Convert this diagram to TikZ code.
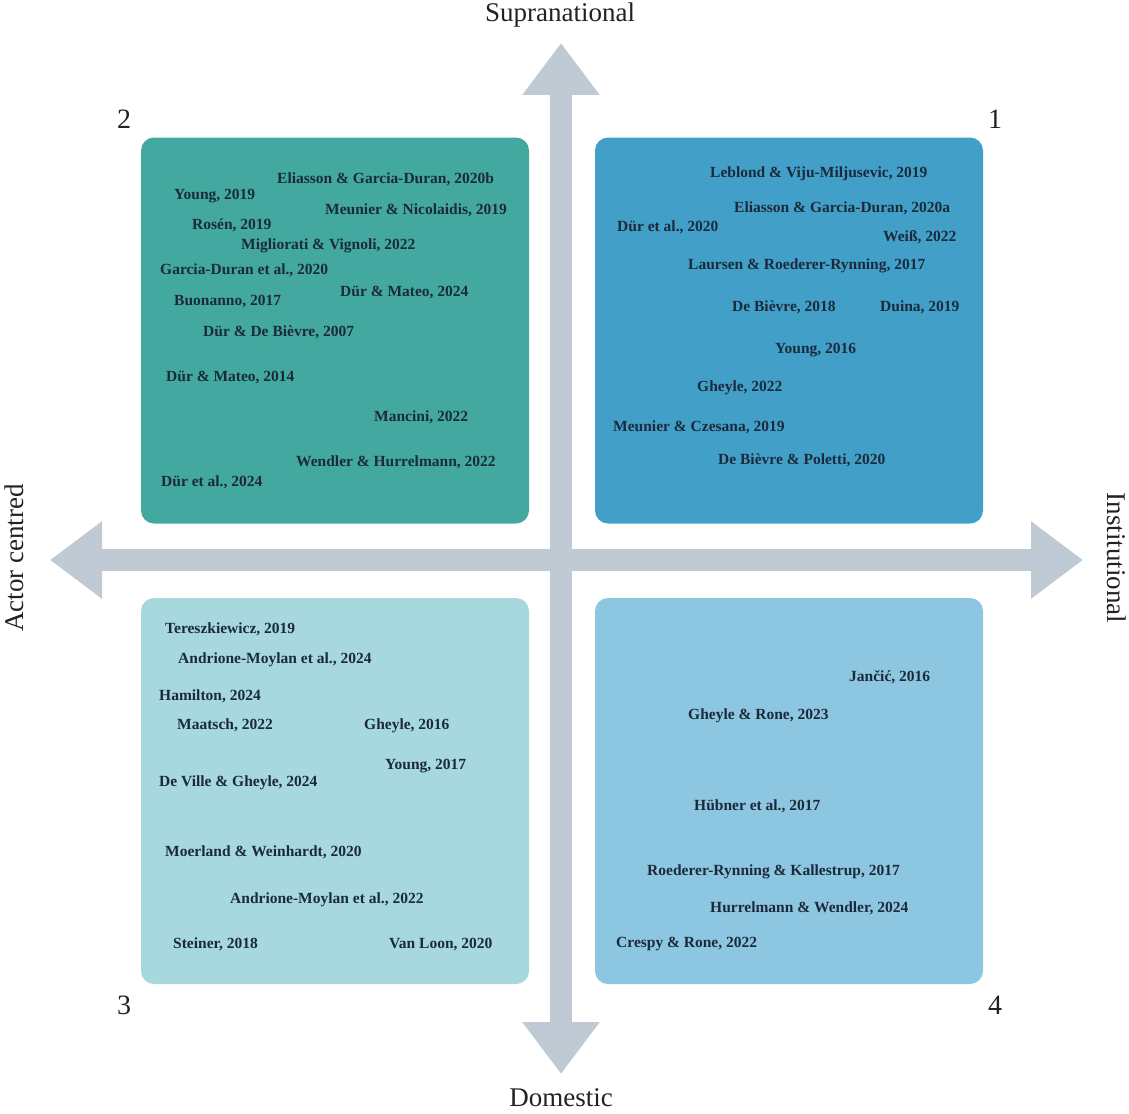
\documentclass[tikz,border=0pt]{standalone}
\usepackage{fontspec}
\setmainfont{Liberation Serif}
\usetikzlibrary{arrows.meta}
\definecolor{cTwo}{HTML}{43A9A0}
\definecolor{cOne}{HTML}{42A0C8}
\definecolor{cThree}{HTML}{A6D8DD}
\definecolor{cFour}{HTML}{8DC6E0}
\definecolor{arrowc}{HTML}{BFCAD4}
\definecolor{txt}{HTML}{1B2A3B}
\definecolor{lab}{HTML}{222222}
\tikzset{
  quad/.style={rounded corners=13pt, minimum width=388pt, minimum height=386pt, inner sep=0pt, draw=none},
  ref/.style={anchor=west, inner sep=0pt, yshift=-1.5pt, text=txt, font=\bfseries\fontsize{15.5}{17}\selectfont},
  axislab/.style={inner sep=0pt, text=lab, font=\fontsize{27}{30}\selectfont},
  num/.style={inner sep=0pt, text=lab, font=\fontsize{28}{30}\selectfont},
  bigarrow/.style={draw=arrowc, line width=22pt, {Triangle[width=74pt,length=52pt]}-{Triangle[width=74pt,length=52pt]}}
}
\begin{document}
\begin{tikzpicture}[x=1pt,y=-1pt]
\useasboundingbox (0,0) rectangle (1129,1113);
% quadrants
\node[quad, fill=cTwo] (q2) at (335,330.5) {};
\node[quad, fill=cOne] (q1) at (789,330.5) {};
\node[quad, fill=cThree] (q3) at (335,791) {};
\node[quad, fill=cFour] (q4) at (789,791) {};
% arrows
\coordinate (top) at (561,43);
\coordinate (bot) at (561,1074);
\coordinate (lft) at (50,560);
\coordinate (rgt) at (1083,560);
\draw[bigarrow] (bot) -- (top);
\draw[bigarrow] (lft) -- (rgt);
% axis labels
\node[axislab] (sup) at (560,15) {Supranational};
\node[axislab] (dom) at (561,1098) {Domestic};
\node[axislab, rotate=90] (act) at (14,558) {Actor centred};
\node[axislab, rotate=-90] (ins) at (1117,558) {Institutional};
% numbers
\node[num] (n2) at (124,119) {2};
\node[num] (n1) at (995,119) {1};
\node[num] (n3) at (124,1005) {3};
\node[num] (n4) at (995,1005) {4};
% box 2
\node[ref] (a1) at (277,178) {Eliasson \& Garcia-Duran, 2020b};
\node[ref] (a2) at (174,195) {Young, 2019};
\node[ref] (a3) at (325,209) {Meunier \& Nicolaidis, 2019};
\node[ref] (a4) at (192,224) {Rosén, 2019};
\node[ref] (a5) at (241,244) {Migliorati \& Vignoli, 2022};
\node[ref] (a6) at (160,269) {Garcia-Duran et al., 2020};
\node[ref] (a7) at (340,291) {Dür \& Mateo, 2024};
\node[ref] (a8) at (174,300) {Buonanno, 2017};
\node[ref] (a9) at (203,331) {Dür \& De Bièvre, 2007};
\node[ref] (a10) at (166,376) {Dür \& Mateo, 2014};
\node[ref] (a11) at (374,416) {Mancini, 2022};
\node[ref] (a12) at (296,461) {Wendler \& Hurrelmann, 2022};
\node[ref] (a13) at (161,481) {Dür et al., 2024};
% box 1
\node[ref] (b1) at (710,172) {Leblond \& Viju-Miljusevic, 2019};
\node[ref] (b2) at (734,207) {Eliasson \& Garcia-Duran, 2020a};
\node[ref] (b3) at (617,226) {Dür et al., 2020};
\node[ref] (b4) at (883,236) {Weiß, 2022};
\node[ref] (b5) at (688,264) {Laursen \& Roederer-Rynning, 2017};
\node[ref] (b6) at (732,306) {De Bièvre, 2018};
\node[ref] (b7) at (880,306) {Duina, 2019};
\node[ref] (b8) at (775,349) {Young, 2016};
\node[ref] (b9) at (697,386) {Gheyle, 2022};
\node[ref] (b10) at (613,426) {Meunier \& Czesana, 2019};
\node[ref] (b11) at (718,459) {De Bièvre \& Poletti, 2020};
% box 3
\node[ref] (c1) at (165,628) {Tereszkiewicz, 2019};
\node[ref] (c2) at (178,658) {Andrione-Moylan et al., 2024};
\node[ref] (c3) at (159,695) {Hamilton, 2024};
\node[ref] (c4) at (177,724) {Maatsch, 2022};
\node[ref] (c5) at (364,724) {Gheyle, 2016};
\node[ref] (c6) at (385,765) {Young, 2017};
\node[ref] (c7) at (159,781) {De Ville \& Gheyle, 2024};
\node[ref] (c8) at (165,851) {Moerland \& Weinhardt, 2020};
\node[ref] (c9) at (230,898) {Andrione-Moylan et al., 2022};
\node[ref] (c10) at (173,943) {Steiner, 2018};
\node[ref] (c11) at (389,943) {Van Loon, 2020};
% box 4
\node[ref] (d1) at (849,676) {Jančić, 2016};
\node[ref] (d2) at (688,714) {Gheyle \& Rone, 2023};
\node[ref] (d3) at (694,805) {Hübner et al., 2017};
\node[ref] (d4) at (647,870) {Roederer-Rynning \& Kallestrup, 2017};
\node[ref] (d5) at (710,907) {Hurrelmann \& Wendler, 2024};
\node[ref] (d6) at (616,943) {Crespy \& Rone, 2022};
\end{tikzpicture}
\end{document}
